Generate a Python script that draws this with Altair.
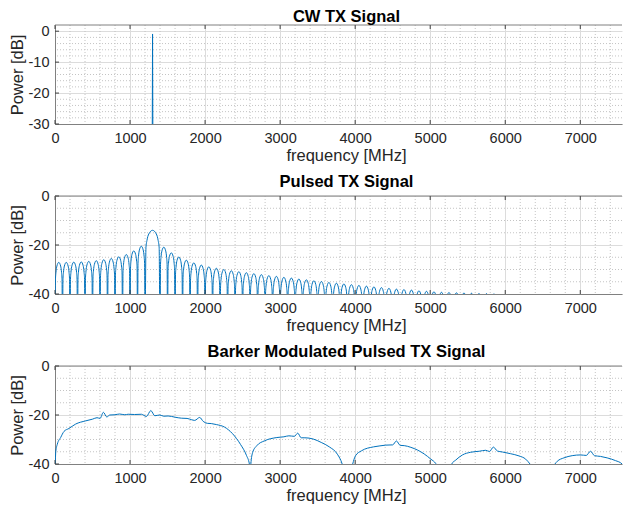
import altair as alt
import pandas as pd

FONT = "Liberation Sans"
BLUE = "#0072BD"
MAJOR = "#dcdcdc"
MINOR = "#c4c4c4"
BOX = "#808080"
TICK = "#404040"
TEXT = "#262626"

XMAX = 7556
W = 567

# axis ticks
x_major = [0, 1000, 2000, 3000, 4000, 5000, 6000, 7000]
x_minor = [200, 400, 600, 800, 1200, 1400, 1600, 1800, 2200, 2400, 2600, 2800,
           3200, 3400, 3600, 3800, 4200, 4400, 4600, 4800, 5200, 5400, 5600, 5800,
           6200, 6400, 6600, 6800, 7200, 7400]
cw_y_major = [-30, -20, -10, 0]
cw_y_minor = [-28, -26, -24, -22, -18, -16, -14, -12, -8, -6, -4, -2]
p_y_major = [-40, -20, 0]
p_y_minor = [-35, -30, -25, -15, -10, -5]

# CW TX signal: single spectral line
cw_freq = [1290, 1300, 1310]
cw_db = [-80, -0.9, -80]

# Pulsed TX signal: lobe edges (nulls) and lobe peak levels
pulsed_nulls = [0, 100, 200, 300, 400, 500, 600, 700, 800, 900, 1000, 1100, 1200,
                1400, 1500, 1600, 1700, 1800, 1900, 2000, 2100, 2200, 2300, 2400,
                2500, 2600, 2700, 2800, 2900, 3000, 3100, 3200, 3300, 3400, 3500,
                3600, 3700, 3800, 3900, 4000, 4100, 4200, 4300, 4400, 4500, 4600,
                4700, 4800, 4900, 5000, 5100, 5200, 5300, 5400, 5500, 5600, 5700,
                5800, 5900]
pulsed_peaks = [-27.1, -27.1, -27.0, -26.9, -26.7, -26.4, -26.0, -25.5, -24.8, -23.9,
                -22.4, -20.5,
                -14.0,
                -20.9, -23.2, -24.9, -26.2, -27.3, -28.2, -28.9, -29.5, -30.0, -30.5,
                -30.9, -31.3, -31.7, -32.1, -32.5, -32.8, -33.2, -33.5, -33.9, -34.2,
                -34.6, -34.9, -35.3, -35.6, -35.9, -36.2, -36.5, -36.8, -37.1, -37.4,
                -37.7, -38.0, -38.2, -38.4, -38.7, -38.9, -39.1, -39.3, -39.4, -39.5,
                -39.6, -39.7, -39.8, -39.85, -39.9]
# arch shape of one lobe, read from the main lobe (fraction of lobe width, dB below peak)
lobe_frac = [0.0, 0.06, 0.125, 0.25, 0.5, 0.75, 0.875, 0.94]
lobe_rel = [-40.0, -7.1, -4.2, -1.5, 0.0, -1.5, -4.2, -7.1]

# Barker modulated pulsed TX signal
barker_freq = [0, 10, 31, 75, 120, 186, 275, 408, 500, 560, 600, 645, 690, 730, 798,
               860, 930, 975, 1060, 1152, 1218, 1277, 1330, 1396, 1450, 1507, 1600,
               1684, 1760, 1817, 1862, 1928, 1975, 2030, 2083, 2150, 2257, 2365, 2472,
               2553, 2590, 2600, 2610, 2634, 2687, 2795, 2956, 3050, 3117, 3190, 3235,
               3280, 3330, 3440, 3548, 3655, 3763, 3827, 3900, 3967, 4005, 4085, 4246,
               4330, 4408, 4500, 4550, 4600, 4654, 4742, 4831, 4920, 5008, 5074, 5200,
               5287, 5340, 5430, 5540, 5652, 5740, 5790, 5842, 5895, 5962, 6072, 6183,
               6272, 6330, 6500, 6662, 6693, 6782, 6892, 7003, 7080, 7136, 7189, 7269,
               7358, 7468, 7557, 7700]
barker_db = [-45, -35, -31.9, -29.2, -26.7, -25.5, -23.7, -22.4, -21.7, -21.1, -21.4,
             -18.9, -20.8, -20.0, -19.9, -19.6, -19.9, -19.7, -19.8, -19.7, -20.6, -18.2,
             -20.3, -20.0, -20.5, -20.4, -20.9, -21.3, -21.4, -21.9, -22.2, -21.0, -22.6,
             -23.4, -23.5, -23.9, -24.9, -27.6, -32.0, -36.6, -40.0, -50, -40.0, -35.3,
             -32.6, -30.5, -29.2, -28.9, -28.5, -28.7, -27.4, -29.3, -29.3, -29.8, -31.2,
             -33.0, -36.0, -40.0, -50, -40.0, -36.6, -34.6, -33.0, -32.6, -32.3, -32.2,
             -30.6, -32.4, -32.5, -33.2, -34.3, -35.9, -38.0, -39.8, -50, -40.0, -38.4,
             -36.3, -35.2, -34.8, -34.4, -34.9, -33.1, -34.7, -35.1, -35.8, -36.7, -38.0,
             -40.0, -50, -40.0, -38.9, -37.5, -36.6, -36.3, -36.5, -34.8, -36.6, -36.9,
             -37.5, -38.6, -40.0, -50]

# build tables
cw_df = pd.DataFrame({"f": cw_freq, "db": cw_db})

pf, pd_ = [], []
for i, pk in enumerate(pulsed_peaks):
    a, b = pulsed_nulls[i], pulsed_nulls[i + 1]
    for fr, rel in zip(lobe_frac, lobe_rel):
        pf.append(a + fr * (b - a))
        pd_.append(pk + rel)
pf.append(pulsed_nulls[-1])
pd_.append(pulsed_peaks[-1] - 40)
pulsed_df = pd.DataFrame({"f": pf, "db": pd_})

barker_df = pd.DataFrame({"f": barker_freq, "db": barker_db})

LABEL_FS = 14.5
TITLE_FS = 16.5


def panel(title, df, y_dom, y_major, y_minor, h, interp):
    xs = alt.Scale(domain=[0, XMAX], nice=False, zero=False)
    ys = alt.Scale(domain=y_dom, nice=False, zero=False)
    xa = alt.Axis(
        values=x_major, format="d", title="frequency [MHz]", grid=True,
        gridColor=MAJOR, gridWidth=1, ticks=False, domainColor=BOX,
        labelPadding=7, labelFontSize=LABEL_FS, labelColor=TEXT, labelFont=FONT,
        titleFontSize=TITLE_FS, titleFont=FONT, titleColor=TEXT,
        titleFontWeight="normal", titlePadding=3, titleX=291, labelFlush=False)
    ya = alt.Axis(
        values=y_major, labelExpr="'' + datum.value", title="Power [dB]", grid=True,
        gridColor=MAJOR, gridWidth=1, ticks=False, domainColor=BOX,
        labelPadding=6, labelFontSize=LABEL_FS, labelColor=TEXT, labelFont=FONT,
        titleFontSize=TITLE_FS, titleFont=FONT, titleColor=TEXT,
        titleFontWeight="normal", titlePadding=3)
    minor_style = dict(color=MINOR, strokeDash=[1, 2], strokeWidth=1)
    xmin = alt.Chart(pd.DataFrame({"v": x_minor})).mark_rule(**minor_style).encode(
        x=alt.X("v:Q", scale=xs, axis=xa))
    ymin = alt.Chart(pd.DataFrame({"v": y_minor})).mark_rule(**minor_style).encode(
        y=alt.Y("v:Q", scale=ys, axis=ya))
    line = alt.Chart(df).mark_line(color=BLUE, strokeWidth=1, clip=True,
                                   interpolate=interp).encode(
        x=alt.X("f:Q", scale=xs, axis=xa),
        y=alt.Y("db:Q", scale=ys, axis=ya),
    )
    top = alt.Chart(pd.DataFrame({"a": [0]})).mark_rule(color=BOX, strokeWidth=1).encode(
        x=alt.value(0), x2=alt.value(W), y=alt.value(0))
    tk = pd.DataFrame({"v": x_major})
    ttop = alt.Chart(tk).mark_rule(color=TICK).encode(
        x=alt.X("v:Q", scale=xs, axis=xa), y=alt.value(0), y2=alt.value(4))
    tbot = alt.Chart(tk).mark_rule(color=TICK).encode(
        x=alt.X("v:Q", scale=xs, axis=xa), y=alt.value(h), y2=alt.value(h - 4))
    tleft = alt.Chart(pd.DataFrame({"v": y_major})).mark_rule(color=TICK).encode(
        y=alt.Y("v:Q", scale=ys, axis=ya), x=alt.value(0), x2=alt.value(4))
    return alt.layer(xmin, ymin, line, top, ttop, tbot, tleft).properties(
        width=W, height=h,
        title=alt.TitleParams(title, fontSize=TITLE_FS, fontWeight="bold", font=FONT,
                              color="black", anchor="middle", offset=-2, dx=8))


c1 = panel("CW TX Signal", cw_df, [-30, 2], cw_y_major, cw_y_minor, 99, "linear")
c2 = panel("Pulsed TX Signal", pulsed_df, [-40, 0], p_y_major, p_y_minor, 98, "monotone")
c3 = panel("Barker Modulated Pulsed TX Signal", barker_df, [-40, 0], p_y_major,
           p_y_minor, 98, "monotone")

chart = alt.vconcat(c1, c2, c3, spacing=9).properties(
    padding={"left": 1, "top": 0, "right": 0, "bottom": 0},
    background="white",
).configure_view(stroke=None)

chart.save("out.html", embed_options={"renderer": "svg", "actions": False})
